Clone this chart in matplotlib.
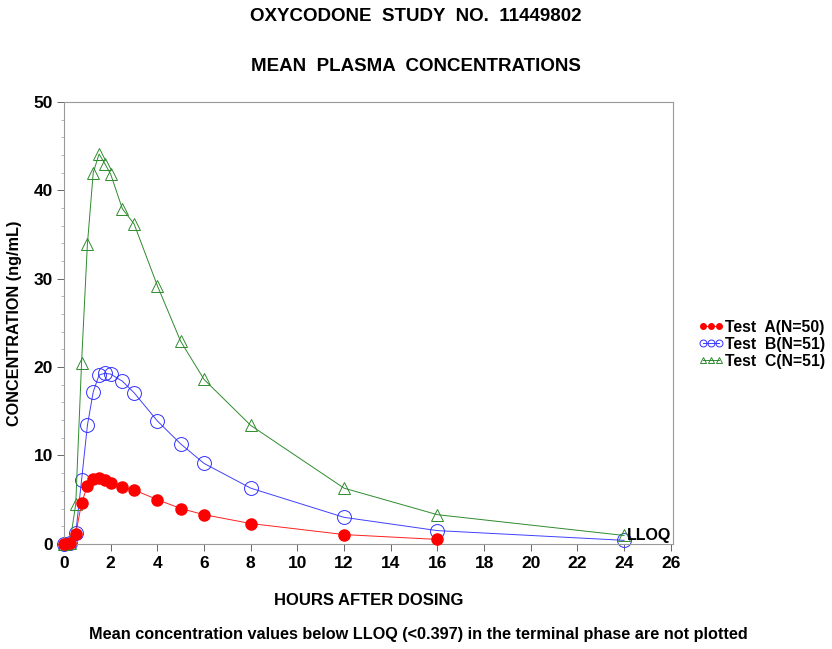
import matplotlib
matplotlib.use("Agg")
import matplotlib.pyplot as plt
from matplotlib.ticker import MultipleLocator

plt.rcParams['font.family'] = ['Liberation Sans', 'DejaVu Sans']
plt.rcParams['font.weight'] = 'bold'
plt.rcParams['axes.labelweight'] = 'bold'

time_a = [0, 0.25, 0.5, 0.75, 1, 1.25, 1.5, 1.75, 2, 2.5, 3, 4, 5, 6, 8, 12, 16]
conc_a = [0, 0.1, 1.1, 4.6, 6.6, 7.3, 7.5, 7.2, 6.9, 6.4, 6.1, 5.0, 4.0, 3.3, 2.3, 1.05, 0.5]

time_b = [0, 0.25, 0.5, 0.75, 1, 1.25, 1.5, 1.75, 2, 2.5, 3, 4, 5, 6, 8, 12, 16, 24]
conc_b = [0, 0.1, 1.2, 7.2, 13.4, 17.2, 19.1, 19.3, 19.2, 18.4, 17.1, 13.9, 11.3, 9.1, 6.3, 3.0, 1.5, 0.4]

time_c = [0, 0.25, 0.5, 0.75, 1, 1.25, 1.5, 1.75, 2, 2.5, 3, 4, 5, 6, 8, 12, 16, 24]
conc_c = [0, 0.1, 4.5, 20.5, 33.9, 42.0, 44.1, 43.0, 41.8, 37.9, 36.2, 29.2, 22.9, 18.6, 13.4, 6.3, 3.3, 0.95]

labels = ['Test  A(N=50)', 'Test  B(N=51)', 'Test  C(N=51)']
x_ticks = list(range(0, 27, 2))
y_ticks = [0, 10, 20, 30, 40, 50]

fig = plt.figure(figsize=(8.32, 6.49), dpi=100)
ax = fig.add_axes([0.077, 0.162, 0.732, 0.681])

ax.plot(time_a, conc_a, color='#ff2020', lw=0.7, marker='o', ms=8,
        mfc='red', mec='red', label=labels[0], clip_on=False, zorder=3)
ax.plot(time_b, conc_b, color='#4040ff', lw=0.7, marker='o', ms=10,
        mfc='none', mec='#3030ff', mew=0.7, label=labels[1], clip_on=False, zorder=2)
ax.plot(time_c, conc_c, color='#2e8b2e', lw=0.7, marker='^', ms=9,
        mfc='none', mec='#2e8b2e', mew=0.7, label=labels[2], clip_on=False, zorder=2)

ax.text(24.1, 0.9, 'LLOQ', fontsize=11.5, ha='left', va='center')

ax.set_xlim(0, 26.1)
ax.set_ylim(0, 50)
ax.set_xticks(x_ticks)
ax.set_yticks(y_ticks)
ax.yaxis.set_minor_locator(MultipleLocator(2))
ax.tick_params(axis='both', which='major', labelsize=12.5, length=5, width=0.7, color='#666666')
ax.tick_params(axis='y', which='major', pad=3)
ax.tick_params(axis='y', which='minor', length=2.5, width=0.5, color='#999999')
for s in ax.spines.values():
    s.set_linewidth(0.8)
    s.set_color('#999999')

ax.set_xlabel('HOURS AFTER DOSING', fontsize=12, labelpad=16)
ax.set_ylabel('CONCENTRATION (ng/mL)', fontsize=11.7, labelpad=8)

fig.text(0.5, 0.975, 'OXYCODONE  STUDY  NO.  11449802', ha='center', va='center', fontsize=13.5)
fig.text(0.5, 0.898, 'MEAN  PLASMA  CONCENTRATIONS', ha='center', va='center', fontsize=13.5)
fig.text(0.503, 0.022, 'Mean concentration values below LLOQ (<0.397) in the terminal phase are not plotted',
         ha='center', va='center', fontsize=11.7)

leg = fig.legend(loc='upper left', bbox_to_anchor=(0.832, 0.517), frameon=False,
                 fontsize=11.3, handlelength=1.6, handletextpad=0.1, labelspacing=0.12,
                 markerscale=0.5, numpoints=3, borderaxespad=0)

fig.savefig('out.png', dpi=100)
